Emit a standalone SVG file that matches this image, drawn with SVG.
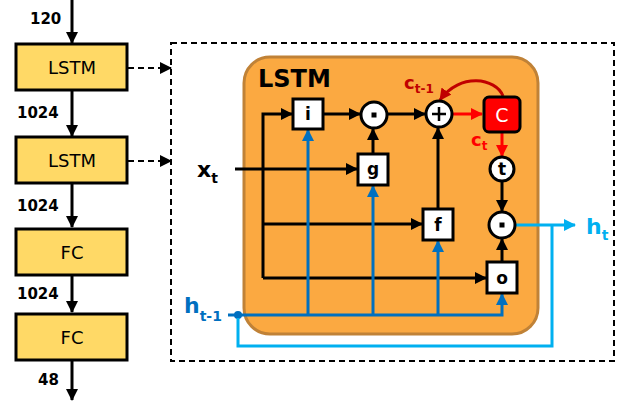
<svg xmlns="http://www.w3.org/2000/svg" width="625" height="405" viewBox="0 0 625 405">
<defs>
<style>
.blk{fill:#FFD966;stroke:#000;stroke-width:3}
.lbl{font-family:"DejaVu Sans",Verdana,sans-serif;font-size:18px;fill:#000;text-anchor:middle}
.num{font-family:"DejaVu Sans",Verdana,sans-serif;font-size:15px;font-weight:bold;fill:#000}
.ln{fill:none;stroke:#000;stroke-width:3}
.bl{fill:none;stroke:#0070C0;stroke-width:3}
.lb{fill:none;stroke:#00B0F0;stroke-width:3}
.gate{fill:#fff;stroke:#000;stroke-width:3}
.gt{font-family:"DejaVu Sans",Verdana,sans-serif;font-size:17px;font-weight:bold;fill:#000;text-anchor:middle}
.sym{font-family:"DejaVu Sans",Verdana,sans-serif;font-weight:bold}
</style>
<marker id="ak" markerUnits="userSpaceOnUse" markerWidth="12" markerHeight="12" viewBox="0 0 12 12" refX="11" refY="6" orient="auto"><path d="M0,0 L12,6 L0,12 Z" fill="#000"/></marker>
<marker id="ab" markerUnits="userSpaceOnUse" markerWidth="12" markerHeight="12" viewBox="0 0 12 12" refX="11" refY="6" orient="auto"><path d="M0,0 L12,6 L0,12 Z" fill="#0070C0"/></marker>
<marker id="alb" markerUnits="userSpaceOnUse" markerWidth="12" markerHeight="12" viewBox="0 0 12 12" refX="11" refY="6" orient="auto"><path d="M0,0 L12,6 L0,12 Z" fill="#00B0F0"/></marker>
<marker id="ar" markerUnits="userSpaceOnUse" markerWidth="12" markerHeight="12" viewBox="0 0 12 12" refX="11" refY="6" orient="auto"><path d="M0,0 L12,6 L0,12 Z" fill="#FF0000"/></marker>
<marker id="adr" markerUnits="userSpaceOnUse" markerWidth="12" markerHeight="12" viewBox="0 0 12 12" refX="11" refY="6" orient="auto"><path d="M0,0 L12,6 L0,12 Z" fill="#C00000"/></marker>
</defs>

<!-- dashed container -->
<rect x="171" y="43" width="443" height="318" fill="none" stroke="#000" stroke-width="2" stroke-dasharray="6,4"/>

<!-- orange LSTM cell -->
<g id="cell">
<rect x="244" y="57" width="294" height="277" rx="26" fill="#FBA941" stroke="#C08237" stroke-width="3"/>
<text x="258" y="87" font-family="DejaVu Sans,Verdana,sans-serif" font-size="24" font-weight="bold" fill="#000">LSTM</text>
</g>

<g id="connectors">
<!-- left column -->
<line x1="72" y1="0" x2="72" y2="43" class="ln" marker-end="url(#ak)"/>
<line x1="72" y1="91" x2="72" y2="136" class="ln" marker-end="url(#ak)"/>
<line x1="72" y1="184" x2="72" y2="227" class="ln" marker-end="url(#ak)"/>
<line x1="72" y1="276" x2="72" y2="312" class="ln" marker-end="url(#ak)"/>
<line x1="72" y1="360" x2="72" y2="400" class="ln" marker-end="url(#ak)"/>
<line x1="128" y1="68" x2="171" y2="68" stroke="#000" stroke-width="2" stroke-dasharray="6,4" marker-end="url(#ak)"/>
<line x1="128" y1="161" x2="171" y2="161" stroke="#000" stroke-width="2" stroke-dasharray="6,4" marker-end="url(#ak)"/>

<!-- black internal -->
<path d="M263 278 V114 H292" class="ln" marker-end="url(#ak)"/>
<line x1="263" y1="224" x2="422" y2="224" class="ln" marker-end="url(#ak)"/>
<line x1="263" y1="278" x2="486" y2="278" class="ln" marker-end="url(#ak)"/>
<line x1="235" y1="169" x2="357" y2="169" class="ln" marker-end="url(#ak)"/>
<line x1="323" y1="114" x2="360" y2="114" class="ln" marker-end="url(#ak)"/>
<line x1="388" y1="114" x2="425" y2="114" class="ln" marker-end="url(#ak)"/>
<line x1="373" y1="154" x2="373" y2="129" class="ln" marker-end="url(#ak)"/>
<line x1="438" y1="209" x2="438" y2="128" class="ln" marker-end="url(#ak)"/>
<line x1="502" y1="181" x2="502" y2="211" class="ln" marker-end="url(#ak)"/>
<line x1="502" y1="262" x2="502" y2="239" class="ln" marker-end="url(#ak)"/>

<!-- red -->
<line x1="452" y1="114" x2="482" y2="114" stroke="#FF0000" stroke-width="3" marker-end="url(#ar)"/>
<line x1="502" y1="132" x2="502" y2="156" stroke="#FF0000" stroke-width="3" marker-end="url(#ar)"/>
<path d="M503 96 C496 78 460 72 440 100" fill="none" stroke="#C00000" stroke-width="3" marker-end="url(#adr)"/>

<!-- blue h_{t-1} -->
<path d="M228 315 H502 V294" class="bl" marker-end="url(#ab)"/>
<line x1="308" y1="315" x2="308" y2="130" class="bl" marker-end="url(#ab)"/>
<line x1="373" y1="315" x2="373" y2="186" class="bl" marker-end="url(#ab)"/>
<line x1="438" y1="315" x2="438" y2="241" class="bl" marker-end="url(#ab)"/>
<circle cx="238" cy="315" r="4" fill="#0070C0"/>

<!-- light blue h_t -->
<line x1="515" y1="225" x2="575" y2="225" class="lb" marker-end="url(#alb)"/>
<path d="M552 225 V346 H238 V318" class="lb"/>
</g>

<!-- left column nodes -->
<g id="lstm1"><rect x="16" y="44" width="111" height="46" class="blk"/><text x="72" y="74" class="lbl">LSTM</text></g>
<g id="lstm2"><rect x="16" y="137" width="111" height="46" class="blk"/><text x="72" y="167" class="lbl">LSTM</text></g>
<g id="fc1"><rect x="16" y="229" width="111" height="46" class="blk"/><text x="72" y="259" class="lbl">FC</text></g>
<g id="fc2"><rect x="16" y="314" width="111" height="46" class="blk"/><text x="72" y="344" class="lbl">FC</text></g>

<g id="dims">
<text x="30" y="24" class="num">120</text>
<text x="17" y="118" class="num">1024</text>
<text x="17" y="211" class="num">1024</text>
<text x="17" y="299" class="num">1024</text>
<text x="38" y="385" class="num">48</text>
</g>

<!-- gates -->
<g id="gate_i"><rect x="293" y="99" width="30" height="30" class="gate"/><text x="308" y="120" class="gt">i</text></g>
<g id="gate_g"><rect x="358" y="154" width="30" height="31" class="gate"/><text x="373" y="175" class="gt">g</text></g>
<g id="gate_f"><rect x="423" y="209" width="30" height="31" class="gate"/><text x="438" y="231" class="gt">f</text></g>
<g id="gate_o"><rect x="487" y="262" width="30" height="31" class="gate"/><text x="502" y="284" class="gt">o</text></g>
<g id="mul1"><circle cx="374" cy="115" r="13" class="gate"/><rect x="371.5" y="112.5" width="5" height="5" fill="#000"/></g>
<g id="add"><circle cx="439" cy="114" r="13" class="gate"/><path d="M432 114 H446 M439 107 V121" stroke="#000" stroke-width="2.5"/></g>
<g id="cellC"><rect x="484" y="97" width="36" height="35" rx="5" fill="#FF0000" stroke="#000" stroke-width="3"/><text x="502" y="122" font-family="DejaVu Sans,Verdana,sans-serif" font-size="19" fill="#fff" text-anchor="middle">C</text></g>
<g id="tanh"><circle cx="502" cy="169" r="12" class="gate"/><text x="502" y="175" class="gt">t</text></g>
<g id="mul2"><circle cx="502" cy="225" r="13" class="gate"/><rect x="499.5" y="222.5" width="5" height="5" fill="#000"/></g>

<!-- labels -->
<g id="labels">
<text x="197" y="177" class="sym" font-size="22" fill="#000">x<tspan font-size="14" dy="6">t</tspan></text>
<text x="184" y="313" class="sym" font-size="22" fill="#0070C0">h<tspan font-size="14" dy="8">t-1</tspan></text>
<text x="404" y="89" class="sym" font-size="18" fill="#C00000">c<tspan font-size="12" dy="4">t-1</tspan></text>
<text x="471" y="146" class="sym" font-size="18" fill="#FF0000">c<tspan font-size="12" dy="4">t</tspan></text>
<text x="586" y="234" class="sym" font-size="22" fill="#00B0F0">h<tspan font-size="14" dy="6">t</tspan></text>
</g>
</svg>
